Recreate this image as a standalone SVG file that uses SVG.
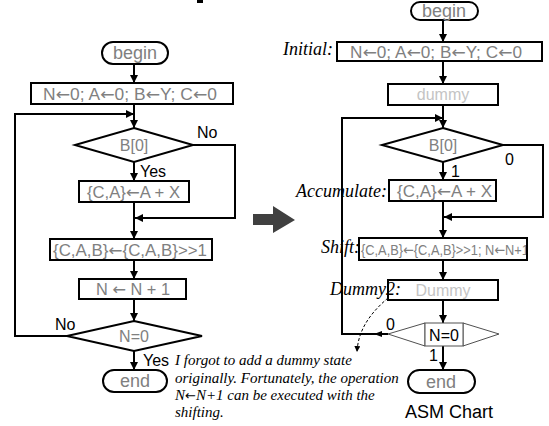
<svg xmlns="http://www.w3.org/2000/svg" width="549" height="426" viewBox="0 0 549 426">
  <style>
    .box { fill: #ffffff; stroke: #000000; stroke-width: 2; }
    .pill { fill: #ffffff; stroke: #000000; stroke-width: 2; }
    .thin { fill: #ffffff; stroke: #505050; stroke-width: 1; }
    .lbl { font-family: "Liberation Sans", Arial, sans-serif; font-size: 16px; fill: #808080; }
    .mid { text-anchor: middle; }
    .arw { font-family: "DejaVu Sans", sans-serif; }
    .term { font-family: "Liberation Sans", Arial, sans-serif; font-size: 18px; fill: #808080; text-anchor: middle; }
    .faint { fill: #c4c4c4; }
    .tag { font-family: "Liberation Sans", Arial, sans-serif; font-size: 16px; fill: #000000; }
    .state { font-family: "Liberation Serif", "Times New Roman", serif; font-style: italic; font-size: 18px; fill: #000000; text-anchor: end; }
    .note { font-family: "Liberation Serif", "Times New Roman", serif; font-style: italic; font-size: 15px; fill: #000000; }
    .wire { fill: none; stroke: #000000; stroke-width: 2; }
  </style>
  <defs>
    <marker id="head" markerUnits="userSpaceOnUse" markerWidth="8" markerHeight="8" refX="8" refY="4" orient="auto">
      <path d="M0,0 L8,4 L0,8 z" fill="#000000"/>
    </marker>
    <marker id="smallhead" markerUnits="userSpaceOnUse" markerWidth="6" markerHeight="6" refX="6" refY="3" orient="auto">
      <path d="M0,0 L6,3 L0,6 z" fill="#000000"/>
    </marker>
    <clipPath id="shiftClip">
      <rect x="360" y="239" width="166" height="20"/>
    </clipPath>
  </defs>

  <!-- fragment of heading above -->
  <rect x="197" y="0" width="6" height="3" fill="#000000"/>

  <!-- connectors -->
  <g id="connectors">
    <!-- flowchart -->
    <path class="wire" d="M134 64 V83" marker-end="url(#head)"/>
    <path class="wire" d="M134 104 V128" marker-end="url(#head)"/>
    <path class="wire" d="M67 336 H15 V114 H134" marker-end="url(#head)"/>
    <path class="wire" d="M134 162 V181" marker-end="url(#head)"/>
    <path class="wire" d="M134 202 V239" marker-end="url(#head)"/>
    <path class="wire" d="M193 145 H235 V218 H135" marker-end="url(#head)"/>
    <path class="wire" d="M134 260 V279" marker-end="url(#head)"/>
    <path class="wire" d="M134 299 V321" marker-end="url(#head)"/>
    <path class="wire" d="M134 351 V370" marker-end="url(#head)"/>

    <!-- ASM chart -->
    <path class="wire" d="M443 20 V42" marker-end="url(#head)"/>
    <path class="wire" d="M443 61 V84" marker-end="url(#head)"/>
    <path class="wire" d="M443 105 V128" marker-end="url(#head)"/>
    <path class="wire" d="M388 334 H342 V118 H443" marker-end="url(#head)"/>
    <path d="M382 331 L374 334 L382 337 z" fill="#000000"/>
    <path class="wire" d="M443 162 V180" marker-end="url(#head)"/>
    <path class="wire" d="M503 145 H543 V217 H444" marker-end="url(#head)"/>
    <path class="wire" d="M443 201 V238" marker-end="url(#head)"/>
    <path class="wire" d="M443 260 V280" marker-end="url(#head)"/>
    <path class="wire" d="M443 300 V323" marker-end="url(#head)"/>
    <path class="wire" d="M443 346 V370" marker-end="url(#head)"/>

    <!-- note pointer -->
    <path d="M388 298 C 368 315 358 332 357 352" fill="none" stroke="#000000" stroke-width="1" stroke-dasharray="3 2" marker-end="url(#smallhead)"/>
  </g>

  <!-- branch labels -->
  <g id="branch-labels">
    <text class="tag" x="197" y="138">No</text>
    <text class="tag" x="140" y="177">Yes</text>
    <text class="tag" x="55" y="330">No</text>
    <text class="tag" x="143" y="366">Yes</text>
    <text class="tag" x="505" y="165">0</text>
    <text class="tag" x="451" y="177">1</text>
    <text class="tag" x="386" y="330">0</text>
    <text class="tag" x="429" y="361">1</text>
  </g>

  <!-- flowchart nodes -->
  <g id="f-begin">
    <rect class="pill" x="102" y="42" width="66" height="22" rx="11"/>
    <text class="term" x="135" y="59">begin</text>
  </g>
  <g id="f-init">
    <rect class="box" x="31" y="83" width="202" height="21"/>
    <text class="lbl" x="43" y="100" textLength="174" lengthAdjust="spacingAndGlyphs">N<tspan class="arw">←</tspan>0; A<tspan class="arw">←</tspan>0; B<tspan class="arw">←</tspan>Y; C<tspan class="arw">←</tspan>0</text>
  </g>
  <g id="f-test-b0">
    <polygon class="box" points="134,128 193,145 134,162 75,145"/>
    <text class="lbl mid" x="134" y="151">B[0]</text>
  </g>
  <g id="f-add">
    <rect class="box" x="79" y="181" width="110" height="21"/>
    <text class="lbl" x="87" y="198" textLength="93" lengthAdjust="spacingAndGlyphs">{C,A}<tspan class="arw">←</tspan>A + X</text>
  </g>
  <g id="f-shift">
    <rect class="box" x="50" y="239" width="162" height="21"/>
    <text class="lbl" x="53" y="256" textLength="154" lengthAdjust="spacingAndGlyphs">{C,A,B}<tspan class="arw">←</tspan>{C,A,B}&gt;&gt;1</text>
  </g>
  <g id="f-inc">
    <rect class="box" x="79" y="279" width="107" height="20"/>
    <text class="lbl" x="96" y="295" textLength="74" lengthAdjust="spacingAndGlyphs">N <tspan class="arw">←</tspan> N + 1</text>
  </g>
  <g id="f-test-n">
    <polygon class="box" points="134,321 202,336 134,351 67,336"/>
    <text class="lbl mid" x="134" y="342">N=0</text>
  </g>
  <g id="f-end">
    <rect class="pill" x="103" y="370" width="64" height="22" rx="11"/>
    <text class="term" x="135" y="387">end</text>
  </g>

  <!-- transformation arrow -->
  <g id="transform-arrow">
    <polygon points="253,214 273,214 273,206 295,220 273,233 273,225 253,225" fill="#404040"/>
  </g>

  <!-- ASM chart nodes -->
  <g id="a-begin">
    <rect class="pill" x="411" y="2" width="67" height="18" rx="9"/>
    <text class="term" x="444" y="17">begin</text>
  </g>
  <g id="a-initial">
    <text class="state" x="333" y="55">Initial:</text>
    <rect class="box" x="337" y="42" width="205" height="19"/>
    <text class="lbl" x="350" y="58" textLength="172" lengthAdjust="spacingAndGlyphs">N<tspan class="arw">←</tspan>0; A<tspan class="arw">←</tspan>0; B<tspan class="arw">←</tspan>Y; C<tspan class="arw">←</tspan>0</text>
  </g>
  <g id="a-dummy">
    <rect class="box" x="388" y="84" width="110" height="21"/>
    <text class="lbl mid faint" x="443" y="100">dummy</text>
  </g>
  <g id="a-test-b0">
    <polygon class="box" points="443,128 503,145 443,162 382,145"/>
    <text class="lbl mid" x="443" y="151">B[0]</text>
  </g>
  <g id="a-accumulate">
    <rect class="box" x="389" y="180" width="107" height="21"/>
    <text class="lbl" x="397" y="197" textLength="95" lengthAdjust="spacingAndGlyphs">{C,A}<tspan class="arw">←</tspan>A + X</text>
    <text class="state" x="387" y="197">Accumulate:</text>
  </g>
  <g id="a-shift">
    <rect class="box" x="359" y="238" width="168" height="22"/>
    <text class="lbl" x="361" y="255" style="font-size:15px" textLength="168" lengthAdjust="spacingAndGlyphs" clip-path="url(#shiftClip)">{C,A,B}<tspan class="arw">←</tspan>{C,A,B}&gt;&gt;1; N<tspan class="arw">←</tspan>N+1</text>
    <text class="state" x="360" y="253">Shift:</text>
  </g>
  <g id="a-dummy2">
    <rect class="box" x="388" y="280" width="110" height="20"/>
    <text class="lbl mid faint" x="443" y="296">Dummy</text>
    <text class="state" x="401" y="295">Dummy2:</text>
  </g>
  <g id="a-test-n">
    <polygon class="thin" points="425,323 388,334 425,346"/>
    <polygon class="thin" points="463,323 499,334 463,346"/>
    <rect class="thin" x="425" y="323" width="38" height="23"/>
    <text class="tag" x="444" y="341" text-anchor="middle">N=0</text>
  </g>
  <g id="a-end">
    <rect class="pill" x="408" y="370" width="67" height="23" rx="11.5"/>
    <text class="term" x="441" y="388">end</text>
  </g>
  <g id="a-caption">
    <text x="449" y="418" font-family="Liberation Sans, Arial, sans-serif" font-size="18" fill="#000000" text-anchor="middle">ASM Chart</text>
  </g>

  <!-- remark -->
  <g id="remark">
    <text class="note" x="175" y="365">I forgot to add a dummy state</text>
    <text class="note" x="175" y="383">originally. Fortunately, the operation</text>
    <text class="note" x="175" y="400">N<tspan class="arw" style="font-style:normal;font-size:13px">←</tspan>N+1 can be executed with the</text>
    <text class="note" x="175" y="417">shifting.</text>
  </g>
</svg>
